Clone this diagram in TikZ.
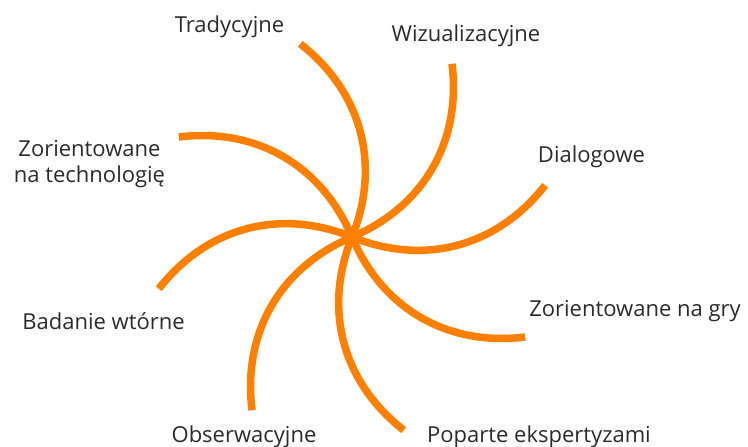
\documentclass[tikz,border=0pt]{standalone}
\usepackage{fontspec}
\setmainfont{Open Sans}
\usepackage{xcolor}
\definecolor{pomarancz}{HTML}{FF8000}
\definecolor{tekst}{HTML}{2B2B2B}
\usepackage{tikz}
\usetikzlibrary{calc}
\tikzset{
  ramie/.style={draw=pomarancz, line width=7.5pt},
  etykieta/.style={anchor=base, text=tekst, inner sep=0pt, font=\fontsize{22}{26}\selectfont}
}

\begin{document}
\begin{tikzpicture}[x=1pt, y=1pt]
    \useasboundingbox (0,0) rectangle (748,447);

    % Le centre
    \coordinate (c) at (352,210);

    % Les huit bras
    \foreach \i in {1,...,8} {
        \coordinate (e\i) at ($(c)+({105-45*(\i-1)}:200)$);
        \draw[ramie] (c) to[bend right=37] (e\i);
    }

    % Les etiquettes
    \node[etykieta] (tradycyjne) at (229.5,414) {Tradycyjne};
    \node[etykieta] (wizualizacyjne) at (466,405) {Wizualizacyjne};
    \node[etykieta] (dialogowe) at (591.5,284) {Dialogowe};
    \node[etykieta] (gry) at (635,130) {Zorientowane na gry};
    \node[etykieta] (poparte) at (539,4) {Poparte ekspertyzami};
    \node[etykieta] (obserwacyjne) at (244,4) {Obserwacyjne};
    \node[etykieta] (badanie) at (103.5,117) {Badanie wtórne};
    \node[etykieta, align=center] (technologia) at (89.5,264) {Zorientowane\\na technologię};
\end{tikzpicture}
\end{document}
